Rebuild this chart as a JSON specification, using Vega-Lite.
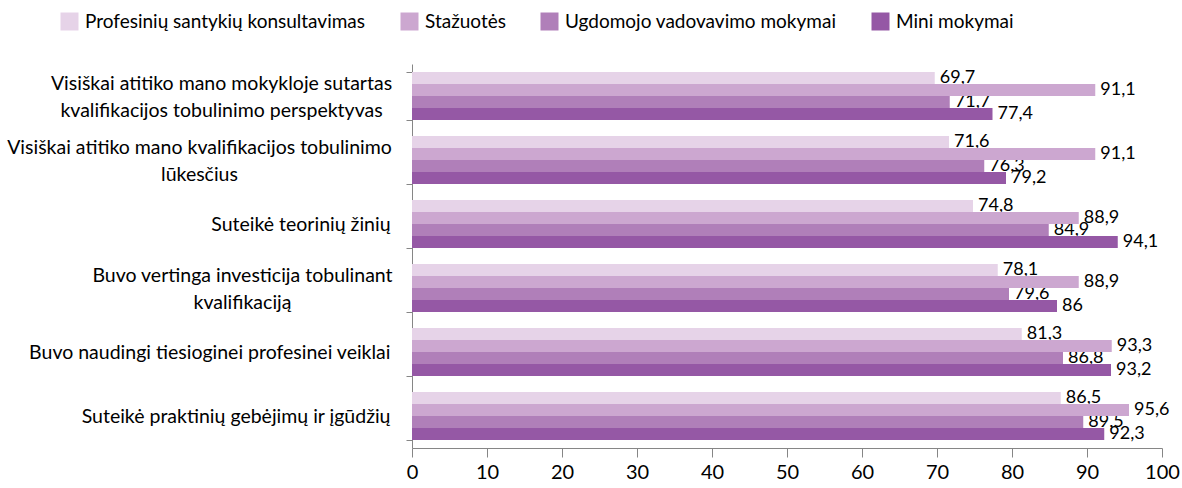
{
  "$schema": "https://vega.github.io/schema/vega-lite/v6.json",
  "width": 750,
  "height": 384,
  "autosize": {"type": "none"},
  "padding": {"left": 412, "top": 64, "right": 20, "bottom": 40},
  "config": {
    "view": {"stroke": null},
    "font": "Lato",
    "locale": {"number": {"decimal": ",", "thousands": ".", "grouping": [3], "currency": ["", " €"]}}
  },
  "data": {
    "values": [
      {"cat": "Visiškai atitiko mano mokykloje sutartas kvalifikacijos tobulinimo perspektyvas", "series": "Profesinių santykių konsultavimas", "v": 69.7},
      {"cat": "Visiškai atitiko mano mokykloje sutartas kvalifikacijos tobulinimo perspektyvas", "series": "Stažuotės", "v": 91.1},
      {"cat": "Visiškai atitiko mano mokykloje sutartas kvalifikacijos tobulinimo perspektyvas", "series": "Ugdomojo vadovavimo mokymai", "v": 71.7},
      {"cat": "Visiškai atitiko mano mokykloje sutartas kvalifikacijos tobulinimo perspektyvas", "series": "Mini mokymai", "v": 77.4},
      {"cat": "Visiškai atitiko mano kvalifikacijos tobulinimo lūkesčius", "series": "Profesinių santykių konsultavimas", "v": 71.6},
      {"cat": "Visiškai atitiko mano kvalifikacijos tobulinimo lūkesčius", "series": "Stažuotės", "v": 91.1},
      {"cat": "Visiškai atitiko mano kvalifikacijos tobulinimo lūkesčius", "series": "Ugdomojo vadovavimo mokymai", "v": 76.3},
      {"cat": "Visiškai atitiko mano kvalifikacijos tobulinimo lūkesčius", "series": "Mini mokymai", "v": 79.2},
      {"cat": "Suteikė teorinių žinių", "series": "Profesinių santykių konsultavimas", "v": 74.8},
      {"cat": "Suteikė teorinių žinių", "series": "Stažuotės", "v": 88.9},
      {"cat": "Suteikė teorinių žinių", "series": "Ugdomojo vadovavimo mokymai", "v": 84.9},
      {"cat": "Suteikė teorinių žinių", "series": "Mini mokymai", "v": 94.1},
      {"cat": "Buvo vertinga investicija tobulinant kvalifikaciją", "series": "Profesinių santykių konsultavimas", "v": 78.1},
      {"cat": "Buvo vertinga investicija tobulinant kvalifikaciją", "series": "Stažuotės", "v": 88.9},
      {"cat": "Buvo vertinga investicija tobulinant kvalifikaciją", "series": "Ugdomojo vadovavimo mokymai", "v": 79.6},
      {"cat": "Buvo vertinga investicija tobulinant kvalifikaciją", "series": "Mini mokymai", "v": 86},
      {"cat": "Buvo naudingi tiesioginei profesinei veiklai", "series": "Profesinių santykių konsultavimas", "v": 81.3},
      {"cat": "Buvo naudingi tiesioginei profesinei veiklai", "series": "Stažuotės", "v": 93.3},
      {"cat": "Buvo naudingi tiesioginei profesinei veiklai", "series": "Ugdomojo vadovavimo mokymai", "v": 86.8},
      {"cat": "Buvo naudingi tiesioginei profesinei veiklai", "series": "Mini mokymai", "v": 93.2},
      {"cat": "Suteikė praktinių gebėjimų ir įgūdžių", "series": "Profesinių santykių konsultavimas", "v": 86.5},
      {"cat": "Suteikė praktinių gebėjimų ir įgūdžių", "series": "Stažuotės", "v": 95.6},
      {"cat": "Suteikė praktinių gebėjimų ir įgūdžių", "series": "Ugdomojo vadovavimo mokymai", "v": 89.5},
      {"cat": "Suteikė praktinių gebėjimų ir įgūdžių", "series": "Mini mokymai", "v": 92.3}
    ]
  },
  "encoding": {
    "y": {
      "field": "cat", "type": "nominal", "sort": null, "title": null,
      "scale": {"paddingInner": 0.25, "paddingOuter": 0.125},
      "axis": {
        "domainColor": "#868686", "tickColor": "#868686", "tickSize": 6, "tickBand": "extent",
        "labelFontSize": 19.5, "labelColor": "#000000", "labelLimit": 420,
        "labelLineHeight": 27,
        "labelAlign": {
          "condition": {"test": "datum.value == 'Visiškai atitiko mano mokykloje sutartas kvalifikacijos tobulinimo perspektyvas' || datum.value == 'Visiškai atitiko mano kvalifikacijos tobulinimo lūkesčius' || datum.value == 'Buvo vertinga investicija tobulinant kvalifikaciją'", "value": "center"},
          "value": "right"
        },
        "labelOffset": {
          "condition": {"test": "datum.value == 'Visiškai atitiko mano mokykloje sutartas kvalifikacijos tobulinimo perspektyvas' || datum.value == 'Visiškai atitiko mano kvalifikacijos tobulinimo lūkesčius' || datum.value == 'Buvo vertinga investicija tobulinant kvalifikaciją'", "value": -13},
          "value": 0
        },
        "labelPadding": {
          "condition": [
            {"test": "datum.value == 'Visiškai atitiko mano mokykloje sutartas kvalifikacijos tobulinimo perspektyvas'", "value": 185},
            {"test": "datum.value == 'Visiškai atitiko mano kvalifikacijos tobulinimo lūkesčius'", "value": 207},
            {"test": "datum.value == 'Buvo vertinga investicija tobulinant kvalifikaciją'", "value": 164}
          ],
          "value": 16
        },
        "labelExpr": "datum.value == 'Visiškai atitiko mano mokykloje sutartas kvalifikacijos tobulinimo perspektyvas' ? ['Visiškai atitiko mano mokykloje sutartas', 'kvalifikacijos tobulinimo perspektyvas'] : datum.value == 'Visiškai atitiko mano kvalifikacijos tobulinimo lūkesčius' ? ['Visiškai atitiko mano kvalifikacijos tobulinimo', 'lūkesčius'] : datum.value == 'Buvo vertinga investicija tobulinant kvalifikaciją' ? ['Buvo vertinga investicija tobulinant', 'kvalifikaciją'] : datum.value"
      }
    },
    "yOffset": {"field": "series", "type": "nominal", "sort": ["Profesinių santykių konsultavimas", "Stažuotės", "Ugdomojo vadovavimo mokymai", "Mini mokymai"], "scale": {"paddingInner": 0, "paddingOuter": 0}},
    "x": {
      "field": "v", "type": "quantitative", "title": null,
      "scale": {"domain": [0, 100], "nice": false},
      "axis": {
        "values": [0, 10, 20, 30, 40, 50, 60, 70, 80, 90, 100],
        "grid": false, "domainColor": "#868686", "tickColor": "#868686", "tickSize": 9,
        "labelFontSize": 20, "labelColor": "#000000", "labelPadding": 5, "labelFlush": false
      }
    }
  },
  "layer": [
    {
      "mark": {"type": "text", "align": "left", "baseline": "middle", "dx": 5, "fontSize": 18, "color": "#000000"},
      "encoding": {"text": {"field": "v", "type": "quantitative", "format": ".1~f"}}
    },
    {
      "mark": {"type": "bar"},
      "encoding": {
        "color": {
          "field": "series", "type": "nominal",
          "sort": ["Profesinių santykių konsultavimas", "Stažuotės", "Ugdomojo vadovavimo mokymai", "Mini mokymai"],
          "scale": {"domain": ["Profesinių santykių konsultavimas", "Stažuotės", "Ugdomojo vadovavimo mokymai", "Mini mokymai"], "range": ["#E6D3E8", "#CCA7D0", "#B07FB9", "#9558A5"]},
          "legend": {
            "title": null, "orient": "none", "legendX": -352, "legendY": -52,
            "direction": "horizontal", "columns": 4, "gridAlign": "none", "columnPadding": 34,
            "symbolType": "square", "symbolSize": 324, "symbolStrokeWidth": 0, "symbolOpacity": 1,
            "labelFontSize": 19, "labelColor": "#000000", "labelLimit": 400, "labelOffset": 6
          }
        }
      }
    }
  ]
}
